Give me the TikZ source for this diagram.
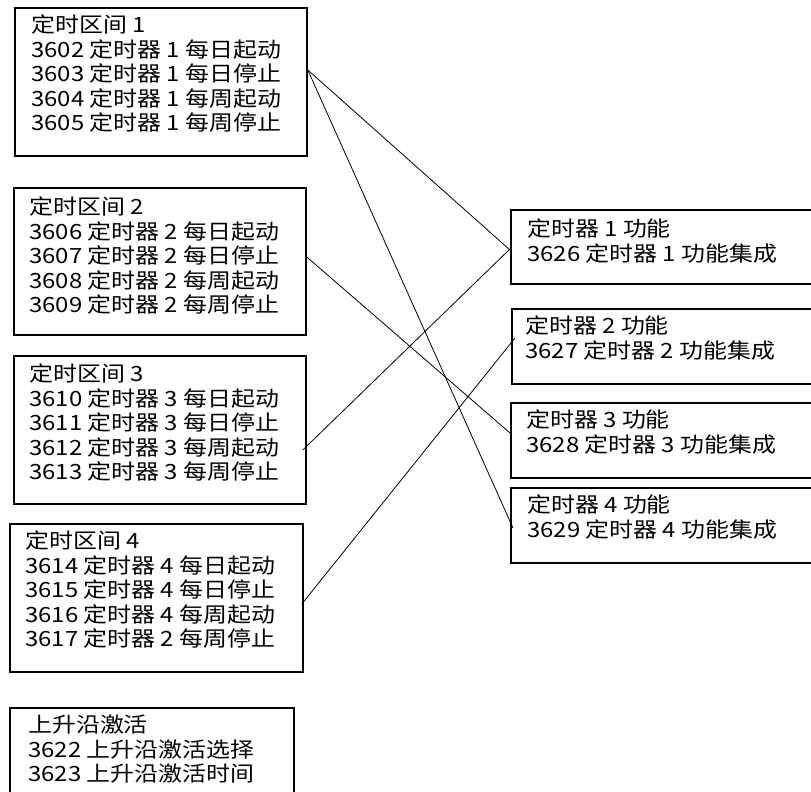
\documentclass[tikz,border=0pt]{standalone}
\usepackage{fontspec}
\setmainfont[FakeStretch=1.14]{Noto Sans CJK SC}
\usetikzlibrary{positioning}

\begin{document}
\begin{tikzpicture}[x=1pt, y=-1pt,
    kuang/.style={draw, line width=1.8pt, anchor=north west, inner sep=0pt},
    wenzi/.style={anchor=north west, inner sep=0pt, align=left, font=\fontsize{21}{24.5}\selectfont},
    lianxian/.style={line width=0.8pt}]
    \useasboundingbox (0,0) rectangle (811,792);

    % 定时区间
    \node[kuang, minimum width=292, minimum height=148] (qj1) at (14,7) {};
    \node[kuang, minimum width=292, minimum height=147] (qj2) at (13,187) {};
    \node[kuang, minimum width=292, minimum height=148] (qj3) at (13,355) {};
    \node[kuang, minimum width=293, minimum height=148] (qj4) at (9,523) {};
    \node[kuang, minimum width=284, minimum height=100] (sj) at (9,707) {};

    \node[wenzi] (qj1t) at ([xshift=17pt, yshift=-8pt]qj1.north west)
        {定时区间 1\\3602 定时器 1 每日起动\\3603 定时器 1 每日停止\\3604 定时器 1 每周起动\\3605 定时器 1 每周停止};
    \node[wenzi] (qj2t) at ([xshift=16pt, yshift=-10pt]qj2.north west)
        {定时区间 2\\3606 定时器 2 每日起动\\3607 定时器 2 每日停止\\3608 定时器 2 每周起动\\3609 定时器 2 每周停止};
    \node[wenzi] (qj3t) at ([xshift=16pt, yshift=-9pt]qj3.north west)
        {定时区间 3\\3610 定时器 3 每日起动\\3611 定时器 3 每日停止\\3612 定时器 3 每周起动\\3613 定时器 3 每周停止};
    \node[wenzi] (qj4t) at ([xshift=16pt, yshift=-8pt]qj4.north west)
        {定时区间 4\\3614 定时器 4 每日起动\\3615 定时器 4 每日停止\\3616 定时器 4 每周起动\\3617 定时器 2 每周停止};
    \node[wenzi] (sjt) at ([xshift=19pt, yshift=-8pt]sj.north west)
        {上升沿激活\\3622 上升沿激活选择\\3623 上升沿激活时间};

    % 定时器功能
    \node[kuang, minimum width=320, minimum height=74] (gn1) at (510,209) {};
    \node[kuang, minimum width=320, minimum height=75] (gn2) at (511,308) {};
    \node[kuang, minimum width=320, minimum height=75] (gn3) at (510,402) {};
    \node[kuang, minimum width=320, minimum height=75] (gn4) at (510,487) {};

    \node[wenzi] (gn1t) at ([xshift=17pt, yshift=-10pt]gn1.north west) {定时器 1 功能\\3626 定时器 1 功能集成};
    \node[wenzi] (gn2t) at ([xshift=14pt, yshift=-8pt]gn2.north west) {定时器 2 功能\\3627 定时器 2 功能集成};
    \node[wenzi] (gn3t) at ([xshift=16pt, yshift=-8pt]gn3.north west) {定时器 3 功能\\3628 定时器 3 功能集成};
    \node[wenzi] (gn4t) at ([xshift=17pt, yshift=-8pt]gn4.north west) {定时器 4 功能\\3629 定时器 4 功能集成};

    % 连线
    \draw[lianxian] ([yshift=-63pt]qj1.north east) -- ([yshift=-41pt]gn1.north west);
    \draw[lianxian] ([yshift=-63pt]qj1.north east) -- ([xshift=3pt, yshift=-41pt]gn4.north west);
    \draw[lianxian] ([yshift=-70pt]qj2.north east) -- ([yshift=-31pt]gn3.north west);
    \draw[lianxian] ([xshift=-4pt, yshift=-95pt]qj3.north east) -- ([xshift=1pt, yshift=-39pt]gn1.north west);
    \draw[lianxian] ([xshift=-2pt, yshift=-81pt]qj4.north east) -- ([xshift=4pt, yshift=-30pt]gn2.north west);
\end{tikzpicture}
\end{document}
